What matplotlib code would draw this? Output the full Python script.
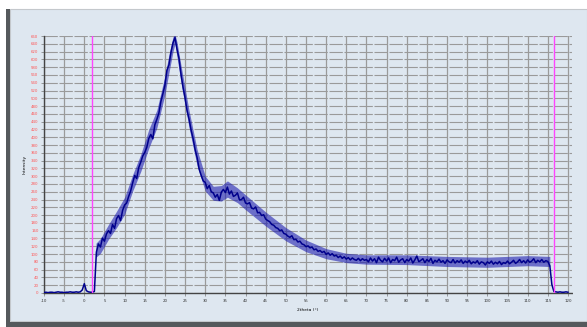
import numpy as np
import matplotlib
matplotlib.use("Agg")
import matplotlib.pyplot as plt
from matplotlib.patches import Rectangle

# 2theta positions (0.5 deg steps) and mean intensities
two_theta = np.arange(-10, 120.5, 0.5)
intensity = (
    # -10 .. 2.5
    [1, 2, 1, 2, 2, 1, 2, 3, 2, 2, 1, 2, 2, 3, 2, 2, 3, 2, 3, 8, 24, 6, 3, 2, 2, 4]
    # 3 .. 29.5
    + [105, 126, 118, 141, 133, 152, 160, 153, 176, 166,
       191, 199, 186, 212, 226, 231, 248, 262, 283, 302,
       294, 322, 336, 352, 361, 374, 397, 407, 396, 432,
       446, 462, 492, 512, 534, 572, 586, 618, 642, 656,
       626, 602, 561, 528, 501, 468, 446, 418, 396, 368,
       347, 318, 302, 288]
    # 30 .. 69.5
    + [284, 268, 276, 260, 257, 246, 253, 238, 259, 266,
       258, 272, 254, 262, 248, 251, 257, 239, 240, 246,
       231, 229, 232, 218, 216, 221, 206, 207, 199, 201,
       190, 186, 183, 176, 174, 168, 166, 160, 162, 153,
       151, 146, 143, 147, 137, 138, 131, 133, 126, 124,
       119, 121, 116, 118, 111, 113, 107, 109, 104, 107,
       99, 103, 97, 101, 95, 97, 91, 95, 89, 93,
       87, 91, 85, 90, 86, 84, 89, 83, 88, 84]
    # 70 .. 115.5
    + [86, 80, 90, 82, 88, 78, 92, 84, 80, 89, 82, 90, 78, 86, 83, 92, 79, 85, 88, 78,
       86, 82, 90, 77, 85, 95, 80, 84, 88, 78, 86, 81, 89, 76, 84, 80, 87, 79, 83, 76,
       85, 80, 78, 86, 77, 83, 79, 85, 76, 82, 78, 84, 75, 80, 77, 83, 74, 80, 78, 72,
       80, 76, 82, 74, 79, 75, 81, 73, 78, 76, 82, 75, 79, 84, 76, 80, 86, 78, 83, 77,
       85, 79, 82, 88, 78, 84, 80, 86, 79, 83, 81, 70]
    # 116 .. 120
    + [22, 4, 3, 2, 3, 2, 2, 3, 2]
)

# noise band (lower / upper edge of the scatter)
band_x = [2.9, 4, 6, 8, 10, 12, 14, 16, 18, 20, 21, 22, 22.5, 23, 24, 26, 28, 30, 32, 34,
          35.5, 38, 40, 45, 50, 55, 60, 65, 70, 80, 90, 100, 110, 115.5]
band_lo = [92, 102, 138, 168, 202, 262, 312, 372, 424, 510, 566, 620, 640, 606, 540, 424, 326,
           262, 238, 236, 246, 232, 214, 172, 134, 106, 88, 78, 74, 73, 68, 66, 70, 68]
band_hi = [128, 140, 176, 210, 246, 304, 356, 420, 470, 558, 612, 658, 664, 644, 584, 468, 368,
           300, 274, 276, 288, 270, 252, 208, 168, 136, 114, 102, 98, 98, 94, 92, 96, 94]

marker_lines = [1.8, 116.6]
x_ticks = np.arange(-10, 121, 5)
y_ticks = np.arange(0, 661, 20)

W, H = 587, 327
fig = plt.figure(figsize=(W / 100, H / 100), dpi=100)
fig.patch.set_facecolor("white")

# window-like panel behind the plot
bg = "#dee7f0"
fig.patches.append(Rectangle((10 / W, 6 / H), 1 - 10 / W, 1 - 15 / H, transform=fig.transFigure,
                             facecolor=bg, edgecolor="#c4c8cc", lw=0.8, zorder=-2))
fig.patches.append(Rectangle((6 / W, 0), 4 / W, 1 - 9 / H, transform=fig.transFigure,
                             facecolor="#55595c", edgecolor="none", zorder=-1))
fig.patches.append(Rectangle((6 / W, 0), 1 - 6 / W, 5 / H, transform=fig.transFigure,
                             facecolor="#55595c", edgecolor="none", zorder=-1))

ax = fig.add_axes([44 / W, (H - 293) / H, (572 - 44) / W, (293 - 36) / H])
ax.set_zorder(2)
ax.set_facecolor(bg)

ax.fill_between(band_x, band_lo, band_hi, color="#2020b0", alpha=0.6, lw=0, zorder=3)
ax.plot(two_theta, intensity, color="#00008c", lw=1.1, zorder=4)
for xm in marker_lines:
    ax.axvline(xm, color="#ff44ff", lw=1.0, zorder=5)

ax.set_xlim(-10, 121)
ax.set_ylim(0, 660)
ax.set_xticks(x_ticks)
ax.set_yticks(y_ticks)
ax.set_xticklabels([str(v) for v in x_ticks], fontsize=2.8, color="#333333")
ax.set_yticklabels([str(v) for v in y_ticks], fontsize=2.8, color="#ff5555")
ax.tick_params(axis="both", length=2, width=0.5, color="#777777", pad=2)

ax.grid(axis="x", color="#9a9a9a", lw=0.9, ls="-")
ax.grid(axis="y", color="#9a9a9a", lw=0.8, ls=(0, (12, 1.5)))
ax.set_axisbelow(True)

for s in ["top", "right"]:
    ax.spines[s].set_visible(False)
for s in ["left", "bottom"]:
    ax.spines[s].set_color("#444444")
    ax.spines[s].set_linewidth(1.0)
    ax.spines[s].set_linestyle((0, (2, 1)))

ax.set_xlabel("2theta (°)", fontsize=3.2, labelpad=4)
ax.set_ylabel("Intensity", fontsize=3.2, labelpad=3)

fig.savefig("out.png", dpi=100)
